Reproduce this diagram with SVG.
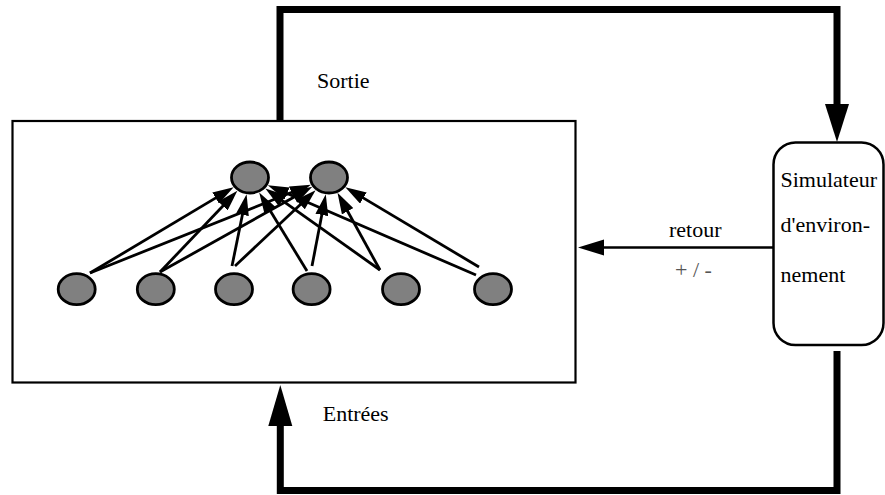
<svg xmlns="http://www.w3.org/2000/svg" width="885" height="495" viewBox="0 0 885 495">
<style>
  .box { fill: #ffffff; stroke: #000; stroke-width: 2.2; }
  .sim { fill: #ffffff; stroke: #000; stroke-width: 2.5; }
  .neuron { fill: #808080; stroke: #000; stroke-width: 2.8; }
  .edge { stroke: #000; stroke-width: 2.8; fill: none; marker-end: url(#ah); }
  .thick { stroke: #000; stroke-width: 7; fill: none; stroke-linejoin: miter; }
  .thin { stroke: #000; stroke-width: 2.5; fill: none; }
  .head { fill: #000; }
  .lbl { font-size: 22px; fill: #000; }
  .sign { fill: #555; }
</style>
<defs>
  <marker id="ah" markerUnits="userSpaceOnUse" markerWidth="21" markerHeight="13" viewBox="0 0 21 13" refX="10" refY="6.5" orient="auto">
    <path d="M0,0 L21,6.5 L0,13 z" fill="#000"/>
  </marker>
</defs>

<g id="network">
  <rect class="box" x="12.5" y="121" width="563" height="261.5"/>
</g>

<g id="simulator">
  <rect class="sim" x="773.5" y="142.5" width="110" height="202.5" rx="22" ry="22"/>
  <text class="lbl" x="780.5" y="187.3" font-family="Liberation Serif, DejaVu Serif, serif">Simulateur</text>
  <text class="lbl" x="780.5" y="231.7" font-family="Liberation Serif, DejaVu Serif, serif">d'environ-</text>
  <text class="lbl" x="780.5" y="282.3" font-family="Liberation Serif, DejaVu Serif, serif">nement</text>
</g>

<g id="connectors">
  <line class="edge" x1="90" y1="273" x2="224.2" y2="192.9"/>
  <line class="edge" x1="90" y1="273" x2="300.7" y2="188.8"/>
  <line class="edge" x1="160" y1="272" x2="229.8" y2="198.7"/>
  <line class="edge" x1="160" y1="272" x2="302.7" y2="192.2"/>
  <line class="edge" x1="232" y1="266" x2="244.4" y2="205.0"/>
  <line class="edge" x1="235" y1="266" x2="307.6" y2="197.7"/>
  <line class="edge" x1="307" y1="271" x2="264.9" y2="202.0"/>
  <line class="edge" x1="312" y1="266" x2="323.7" y2="205.1"/>
  <line class="edge" x1="380" y1="270" x2="274.3" y2="194.8"/>
  <line class="edge" x1="380" y1="270" x2="342.8" y2="202.5"/>
  <line class="edge" x1="476" y1="275" x2="277.9" y2="189.5"/>
  <line class="edge" x1="479" y1="267" x2="354.8" y2="192.9"/>

  <polyline class="thick" points="280,121 280,9.5 837,9.5 837,106"/>
  <polygon class="head" points="825,104 849,104 837,142"/>

  <polyline class="thick" points="837,351 837,490.5 280.3,490.5 280.3,424"/>
  <polygon class="head" points="268.3,426 292.3,426 280.3,385"/>

  <line class="thin" x1="773" y1="247.5" x2="602" y2="247.5"/>
  <polygon class="head" points="578,247.5 604,239.5 604,255.5"/>
</g>

<g id="neuron-t1"><ellipse class="neuron" cx="250" cy="177.5" rx="18.5" ry="15.5"/></g>
<g id="neuron-t2"><ellipse class="neuron" cx="329" cy="177.5" rx="18.5" ry="15.5"/></g>
<g id="neuron-b1"><ellipse class="neuron" cx="76.7" cy="289.2" rx="18.5" ry="15.5"/></g>
<g id="neuron-b2"><ellipse class="neuron" cx="155.8" cy="289.2" rx="18.5" ry="15.5"/></g>
<g id="neuron-b3"><ellipse class="neuron" cx="234" cy="289.2" rx="18.5" ry="15.5"/></g>
<g id="neuron-b4"><ellipse class="neuron" cx="311.6" cy="289.2" rx="18.5" ry="15.5"/></g>
<g id="neuron-b5"><ellipse class="neuron" cx="401" cy="289.2" rx="18.5" ry="15.5"/></g>
<g id="neuron-b6"><ellipse class="neuron" cx="493" cy="289.2" rx="18.5" ry="15.5"/></g>

<g id="labels">
  <text class="lbl" x="317" y="88.3" font-family="Liberation Serif, DejaVu Serif, serif">Sortie</text>
  <text class="lbl" x="322.7" y="420.7" font-family="Liberation Serif, DejaVu Serif, serif">Entrées</text>
  <text class="lbl" x="669" y="237.3" font-family="Liberation Serif, DejaVu Serif, serif">retour</text>
  <text class="lbl sign" x="675" y="276.7" font-family="Liberation Serif, DejaVu Serif, serif">+ / -</text>
</g>
</svg>
